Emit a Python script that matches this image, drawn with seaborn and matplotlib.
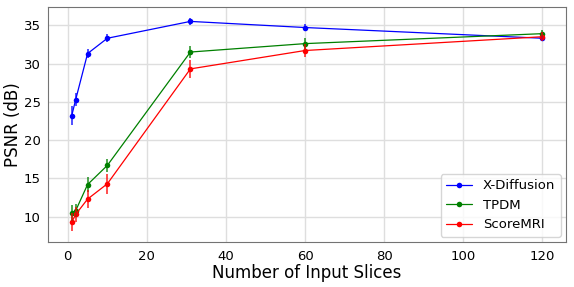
import numpy as np
import pandas as pd
import matplotlib
matplotlib.use("Agg")
import matplotlib.pyplot as plt
import seaborn as sns

# data
slices = [1, 2, 5, 10, 31, 60, 120]
xdiff_mean = [23.2, 25.3, 31.3, 33.3, 35.5, 34.7, 33.3]
xdiff_err = [1.2, 0.8, 0.6, 0.5, 0.5, 0.4, 0.4]
tpdm_mean = [10.5, 10.8, 14.2, 16.7, 31.5, 32.6, 33.9]
tpdm_err = [1.0, 0.9, 1.0, 0.8, 0.8, 0.7, 0.5]
score_mean = [9.3, 10.3, 12.3, 14.3, 29.3, 31.7, 33.5]
score_err = [1.2, 1.0, 1.2, 1.3, 1.2, 0.8, 0.6]

methods = ["X-Diffusion", "TPDM", "ScoreMRI"]
colors = {"X-Diffusion": "blue", "TPDM": "green", "ScoreMRI": "red"}

df = pd.concat([
    pd.DataFrame({"slices": slices, "psnr": xdiff_mean, "err": xdiff_err, "method": "X-Diffusion"}),
    pd.DataFrame({"slices": slices, "psnr": tpdm_mean, "err": tpdm_err, "method": "TPDM"}),
    pd.DataFrame({"slices": slices, "psnr": score_mean, "err": score_err, "method": "ScoreMRI"}),
], ignore_index=True)

sns.set_style("white")
plt.rcParams["font.family"] = ["DejaVu Sans"]
plt.rcParams["text.color"] = "black"
plt.rcParams["axes.labelcolor"] = "black"

fig, ax = plt.subplots(figsize=(5.74, 2.87), dpi=100)
fig.subplots_adjust(left=0.084, right=0.986, top=0.976, bottom=0.157)

sns.lineplot(data=df, x="slices", y="psnr", hue="method", hue_order=methods,
             palette=colors, marker="o", markersize=4, markeredgewidth=0,
             linewidth=0.9, ax=ax)

# error bars
for m in methods:
    sub = df[df["method"] == m]
    ax.errorbar(sub["slices"], sub["psnr"], yerr=sub["err"], fmt="none",
                ecolor=colors[m], elinewidth=1.3, alpha=0.75)

ax.grid(True, color="0.87", linewidth=1.0)
ax.set_axisbelow(True)
for s in ax.spines.values():
    s.set_color("0.45")
    s.set_linewidth(0.8)
ax.tick_params(axis="both", labelsize=9.5, length=3, color="0.45", width=0.8,
               labelcolor="black", pad=2.5)
ax.set_xlabel("Number of Input Slices", fontsize=12, labelpad=1, color="black")
ax.set_ylabel("PSNR (dB)", fontsize=12, labelpad=1, color="black")
ax.set_xticks([0, 20, 40, 60, 80, 100, 120])
ax.set_yticks([10, 15, 20, 25, 30, 35])

leg = ax.legend(loc="lower right", fontsize=9.5, title=None, frameon=True,
                borderaxespad=0.4, handlelength=2.0)
for t in leg.get_texts():
    t.set_color("black")

plt.savefig("out.png", dpi=100)
plt.close()
